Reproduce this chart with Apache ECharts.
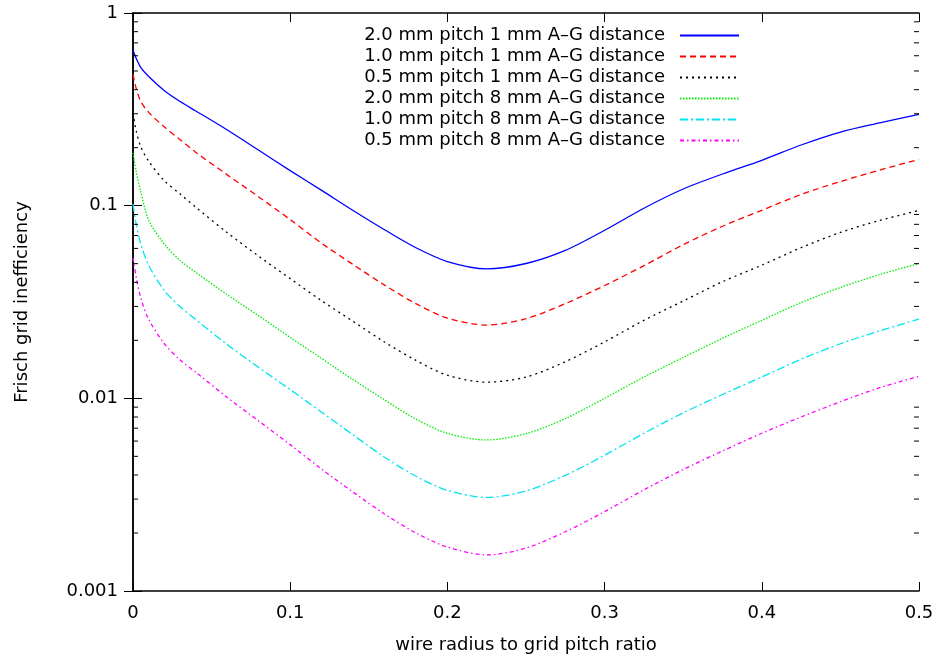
<!DOCTYPE html>
<html>
<head>
<meta charset="utf-8">
<script src="https://cdn.jsdelivr.net/npm/echarts@6/dist/echarts.min.js"></script>
<style>html,body{margin:0;padding:0;background:#fff}#c{width:939px;height:659px}</style>
</head>
<body>
<div id="c"></div>
<script>
const xs = [0, 0.002, 0.005, 0.01, 0.02, 0.03, 0.04, 0.06, 0.08, 0.1, 0.12, 0.14, 0.16, 0.18, 0.2, 0.225, 0.25, 0.275, 0.3, 0.325, 0.35, 0.375, 0.4, 0.425, 0.45, 0.475, 0.5];
const names = [
  '2.0 mm pitch 1 mm A\u2013G distance',
  '1.0 mm pitch 1 mm A\u2013G distance',
  '0.5 mm pitch 1 mm A\u2013G distance',
  '2.0 mm pitch 8 mm A\u2013G distance',
  '1.0 mm pitch 8 mm A\u2013G distance',
  '0.5 mm pitch 8 mm A\u2013G distance'
];
const p20d1 = [0.643, 0.582, 0.521, 0.468, 0.395, 0.347, 0.31, 0.247, 0.194, 0.152, 0.120, 0.0944, 0.075, 0.0605, 0.0513, 0.047, 0.0501, 0.0586, 0.0745, 0.097, 0.122, 0.146, 0.172, 0.2065, 0.241, 0.269, 0.298];
const p10d1 = [0.48, 0.407, 0.347, 0.305, 0.256, 0.22, 0.189, 0.1445, 0.111, 0.0847, 0.0638, 0.0495, 0.0387, 0.031, 0.0261, 0.024, 0.0259, 0.031, 0.0385, 0.0488, 0.0627, 0.0782, 0.0946, 0.1143, 0.1334, 0.153, 0.174];
const p05d1 = [0.302, 0.245, 0.202, 0.17, 0.1346, 0.115, 0.098, 0.0724, 0.0546, 0.0418, 0.0321, 0.0251, 0.0196, 0.01574, 0.01318, 0.01213, 0.0129, 0.01549, 0.01963, 0.0254, 0.032, 0.0403, 0.0491, 0.0605, 0.0726, 0.0839, 0.0944];
const p20d8 = [0.188, 0.151, 0.1175, 0.0841, 0.0631, 0.0519, 0.045, 0.0345, 0.0268, 0.0207, 0.0161, 0.0125, 0.00982, 0.0078, 0.00658, 0.00608, 0.00656, 0.00785, 0.0100, 0.0129, 0.0163, 0.0205, 0.0254, 0.0314, 0.0376, 0.0439, 0.0501];
const p10d8 = [0.102, 0.0804, 0.0631, 0.049, 0.0362, 0.0299, 0.0256, 0.019, 0.01445, 0.0111, 0.00847, 0.00646, 0.00495, 0.00394, 0.00333, 0.00306, 0.00331, 0.00398, 0.00507, 0.00658, 0.00841, 0.01047, 0.0129, 0.01596, 0.0192, 0.0224, 0.0258];
const p05d8 = [0.0536, 0.0427, 0.0331, 0.0257, 0.0192, 0.0158, 0.01365, 0.0101, 0.00762, 0.00575, 0.00429, 0.00326, 0.00251, 0.002, 0.00169, 0.00154, 0.00167, 0.00203, 0.00258, 0.00335, 0.00427, 0.00533, 0.00659, 0.008, 0.0096, 0.01135, 0.013];
const yTickLabels = ['0.001', '0.01', '0.1', '1'];
const xTickLabels = ['0', '0.1', '0.2', '0.3', '0.4', '0.5'];

const seriesValues = [p20d1, p10d1, p05d1, p20d8, p10d8, p05d8];
const colors = ['#0000ff', '#ff0000', '#000000', '#00ee00', '#00e5ee', '#ff00ff'];
const dashes = ['solid', [6, 4], [2, 4], [1.5, 1.5], [8, 3, 2, 3], [4, 3, 1.5, 3]];

// minor tick values (2..9 of each decade) on the log axis
const minorTicks = [];
for (let d = -3; d < 0; d++) for (let k = 2; k <= 9; k++) minorTicks.push(k * Math.pow(10, d));

const FONT = 'DejaVu Sans';
const grid = { left: 133, right: 20, top: 13, bottom: 67 };
const lineAx = { show: true, lineStyle: { color: '#000', width: 1.5 } };
const majorTick = { show: true, inside: true, length: 9, lineStyle: { color: '#000', width: 1 } };

const chart = echarts.init(document.getElementById('c'), null, { renderer: 'canvas' });
const lineSeries = seriesValues.map((vals, i) => ({
  name: names[i],
  type: 'line',
  xAxisIndex: 0,
  yAxisIndex: 0,
  symbol: 'none',
  smooth: 0.3,
  z: 2,
  lineStyle: { color: colors[i], width: 1.3, type: dashes[i] },
  itemStyle: { color: colors[i] },
  data: xs.map((x, j) => [x, vals[j]])
}));
function tickSeries(xEdge, dir) {
  return {
    type: 'custom',
    xAxisIndex: 0,
    yAxisIndex: 0,
    silent: true,
    clip: false,
    z: 10,
    data: minorTicks.map(v => [xEdge, v]),
    renderItem: function (params, api) {
      const p = api.coord([api.value(0), api.value(1)]);
      return {
        type: 'line',
        shape: { x1: p[0], y1: p[1], x2: p[0] + dir * 5, y2: p[1] },
        style: { stroke: '#000', lineWidth: 1 }
      };
    }
  };
}

chart.setOption({
  animation: false,
  backgroundColor: '#fff',
  color: colors,
  textStyle: { fontFamily: FONT },
  grid: grid,
  legend: {
    orient: 'vertical',
    right: 194,
    top: 20,
    align: 'right',
    itemWidth: 59,
    itemHeight: 12,
    itemGap: 0,
    itemStyle: { opacity: 0 },
    textStyle: { fontFamily: FONT, fontSize: 18, color: '#000', lineHeight: 21, padding: [0, 10, 0, 0] },
    data: names
  },
  xAxis: [{
    type: 'value', min: 0, max: 0.5, interval: 0.1, position: 'bottom',
    name: 'wire radius to grid pitch ratio', nameLocation: 'middle', nameGap: 45,
    nameTextStyle: { fontFamily: FONT, fontSize: 18, color: '#000' },
    axisLine: lineAx,
    axisTick: majorTick,
    axisLabel: { fontFamily: FONT, fontSize: 18, color: '#000', margin: 13,
      formatter: (v) => xTickLabels[Math.round(v * 10)] },
    splitLine: { show: false }
  }, {
    type: 'value', min: 0, max: 0.5, interval: 0.1, position: 'top',
    axisLine: lineAx,
    axisTick: majorTick,
    axisLabel: { show: false },
    splitLine: { show: false }
  }],
  yAxis: [{
    type: 'log', logBase: 10, min: 0.001, max: 1, position: 'left',
    name: 'Frisch grid inefficiency', nameLocation: 'middle', nameGap: 102, nameRotate: 90,
    nameTextStyle: { fontFamily: FONT, fontSize: 18, color: '#000' },
    axisLine: lineAx,
    axisTick: majorTick,
    axisLabel: { fontFamily: FONT, fontSize: 18, color: '#000', margin: 15,
      formatter: (v) => yTickLabels[Math.round(Math.log10(v)) + 3] },
    splitLine: { show: false }
  }, {
    type: 'log', logBase: 10, min: 0.001, max: 1, position: 'right',
    axisLine: lineAx,
    axisTick: majorTick,
    axisLabel: { show: false },
    splitLine: { show: false }
  }],
  series: lineSeries.concat([tickSeries(0, 1), tickSeries(0.5, -1)])
});
</script>
</body>
</html>
